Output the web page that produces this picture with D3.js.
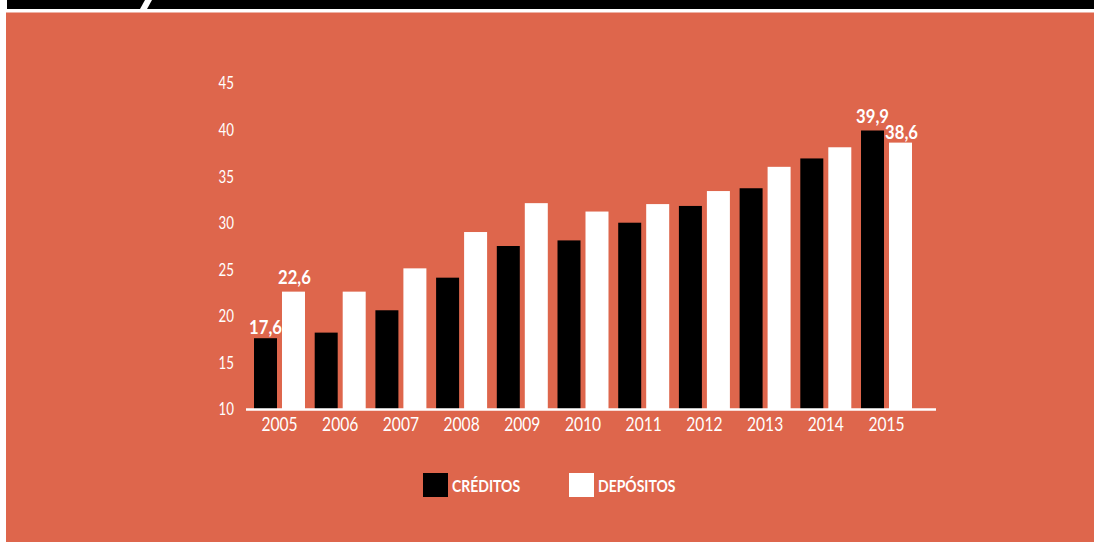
<!DOCTYPE html>
<html>
<head>
<meta charset="utf-8">
<script src="https://cdn.jsdelivr.net/npm/d3@7"></script>
<style>
  html, body { margin: 0; padding: 0; background: #ffffff; }
  svg { display: block; }
</style>
</head>
<body>
<svg id="chart" width="1094" height="542"></svg>
<script>
const years = ["2005","2006","2007","2008","2009","2010","2011","2012","2013","2014","2015"];
const creditos = [17.6, 18.2, 20.6, 24.1, 27.5, 28.1, 30.0, 31.8, 33.7, 36.9, 39.9];
const depositos = [22.6, 22.6, 25.1, 29.0, 32.1, 31.2, 32.0, 33.4, 36.0, 38.1, 38.6];
const yTicks = [10, 15, 20, 25, 30, 35, 40, 45];
const seriesNames = ["CRÉDITOS", "DEPÓSITOS"];
const labelled = { creditos: ["2005", "2015"], depositos: ["2005", "2015"] };

const W = 1094, H = 542;
const orange = "#DE664C";
const fontFam = "Lato, 'DejaVu Sans Condensed', sans-serif";

const svg = d3.select("#chart");

// header bar and background
svg.append("rect").attr("x", 7).attr("y", 0).attr("width", W - 7).attr("height", 9).attr("fill", "#000");
svg.append("path").attr("d", "M140,9 L145,0 L152,0 L147,9 Z").attr("fill", "#fff");
svg.append("rect").attr("x", 6).attr("y", 12.5).attr("width", W - 6).attr("height", H - 12.5).attr("fill", orange);

const x0 = d3.scaleBand().domain(years).range([254, 912]).paddingInner(0.16).paddingOuter(0);
const x1 = d3.scaleBand().domain(["c", "d"]).range([0, x0.bandwidth()]).paddingInner(5 / 28).paddingOuter(0);
const y = d3.scaleLinear().domain([10, 45]).range([409, 83]);

const g = svg.append("g");

// bars
const data = years.map((yr, i) => ({ year: yr, c: creditos[i], d: depositos[i] }));
const groups = g.selectAll("g.grp").data(data).join("g")
  .attr("class", "grp")
  .attr("transform", d => `translate(${x0(d.year)},0)`);

groups.append("rect")
  .attr("x", x1("c")).attr("width", x1.bandwidth())
  .attr("y", d => y(d.c)).attr("height", d => y(10) - y(d.c))
  .attr("fill", "#000");
groups.append("rect")
  .attr("x", x1("d")).attr("width", x1.bandwidth())
  .attr("y", d => y(d.d)).attr("height", d => y(10) - y(d.d))
  .attr("fill", "#fff");

// value labels
const fmt = v => v.toFixed(1).replace(".", ",");
function valueLabel(cx, by, v) {
  g.append("text")
    .attr("transform", `translate(${cx},${by}) scale(0.9,1)`)
    .attr("text-anchor", "middle")
    .attr("fill", "#fff").attr("font-family", fontFam).attr("font-weight", "bold")
    .attr("font-size", 18.5).text(fmt(v));
}
data.forEach(d => {
  if (labelled.creditos.includes(d.year)) {
    const gap = d.year === "2005" ? 4 : 8;
    valueLabel(x0(d.year) + x1("c") + x1.bandwidth() / 2, y(d.c) - gap, d.c);
  }
  if (labelled.depositos.includes(d.year)) {
    const gap = d.year === "2005" ? 8 : 4;
    valueLabel(x0(d.year) + x1("d") + x1.bandwidth() / 2 + 1, y(d.d) - gap, d.d);
  }
});

// y axis (labels only)
const yAxis = d3.axisLeft(y).tickValues(yTicks).tickSize(0).tickPadding(0).tickFormat(d3.format("d"));
const ya = svg.append("g").attr("transform", "translate(234,0)").call(yAxis);
ya.select(".domain").remove();
ya.selectAll("text").attr("fill", "#fff").attr("font-family", fontFam).attr("font-weight", 400)
  .attr("font-size", 17).attr("x", null).attr("dy", "0.35em")
  .attr("transform", "scale(0.78,1)");

// x axis
const xAxis = d3.axisBottom(x0).tickSize(0).tickPadding(0);
const xa = svg.append("g").attr("transform", "translate(0,409)").call(xAxis);
xa.select(".domain").remove();
xa.selectAll("text").attr("fill", "#fff").attr("font-family", fontFam).attr("font-weight", 400)
  .attr("font-size", 19.5).attr("dy", "0").attr("y", 22)
  .attr("transform", "scale(0.8,1)");
svg.append("line").attr("x1", 246).attr("x2", 936).attr("y1", 409.5).attr("y2", 409.5)
  .attr("stroke", "#fff").attr("stroke-width", 2.5);

// legend
const legendX = [423, 569];
const legendFill = ["#000", "#fff"];
seriesNames.forEach((name, i) => {
  svg.append("rect").attr("x", legendX[i]).attr("y", 473).attr("width", 25).attr("height", 24).attr("fill", legendFill[i]);
  svg.append("text").attr("transform", `translate(${legendX[i] + 29},492) scale(0.8,1)`)
    .attr("fill", "#fff").attr("font-family", fontFam).attr("font-weight", "bold")
    .attr("font-size", 17.5).text(name);
});
</script>
</body>
</html>
